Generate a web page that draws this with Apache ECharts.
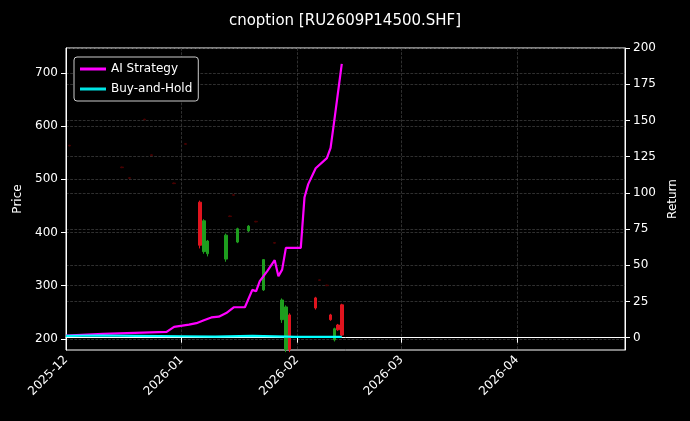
<!DOCTYPE html>
<html><head><meta charset="utf-8">
<script src="https://cdn.jsdelivr.net/npm/echarts@6/dist/echarts.min.js"></script>
<style>html,body{margin:0;background:#000}#c{width:690px;height:421px}</style>
</head><body><div id="c"></div>
<script>
// candles: [date, open, close, low, high]
const candleDates = ['2026-01-06','2026-01-07','2026-01-08','2026-01-13','2026-01-16','2026-01-19','2026-01-23','2026-01-28','2026-01-29','2026-01-30','2026-02-06','2026-02-10','2026-02-11','2026-02-12','2026-02-13'];
const candleOpen  = [376, 422, 384, 395, 407, 412, 349, 273, 260, 180, 258, 236, 219, 217, 207];
const candleClose = [457, 364, 360, 350, 382, 403, 292, 236, 180, 245, 277, 245, 198, 226, 264];
const candleLow   = [370, 360, 355, 345, 380, 401, 290, 230, 175, 175, 255, 234, 195, 215, 205];
const candleHigh  = [460, 425, 386, 398, 409, 414, 350, 276, 263, 248, 279, 247, 221, 228, 266];
// faint near-flat candles (dots)
const dotDates = ['2025-12-02','2025-12-12','2025-12-16','2025-12-18','2025-12-22','2025-12-24','2025-12-30','2026-01-02','2026-01-15','2026-01-14','2026-01-21','2026-01-26','2026-02-07','2026-02-09'];
const dotPrice = [563, 723, 522, 502, 612, 545, 492, 566, 470, 430, 420, 380, 310, 300];
// AI Strategy return
const aiDates = ['2025-12-01','2025-12-11','2025-12-28','2025-12-30','2026-01-03','2026-01-05','2026-01-07','2026-01-09','2026-01-11','2026-01-13','2026-01-15','2026-01-18','2026-01-20','2026-01-21','2026-01-22','2026-01-24','2026-01-26','2026-01-27','2026-01-28','2026-01-29','2026-02-02','2026-02-03','2026-02-04','2026-02-06','2026-02-09','2026-02-10','2026-02-11','2026-02-13'];
const aiReturn = [1.4, 2.7, 4, 7.5, 9, 10, 12, 14, 14.5, 17, 21, 21, 33, 32, 39, 46, 53.5, 42.5, 47, 62, 62, 97, 106, 117, 124, 131, 150, 189];
const bhDates = ['2025-12-01','2025-12-10','2025-12-20','2026-01-01','2026-01-10','2026-01-20','2026-02-01','2026-02-13'];
const bhReturn = [1.2, 1.5, 1.3, 1.0, 0.8, 1.2, 0.5, 0.6];

const candleData = candleDates.map((d,i)=>[d,candleOpen[i],candleClose[i],candleLow[i],candleHigh[i]]);
const dotData = dotDates.map((d,i)=>({value:[d,dotPrice[i],dotPrice[i]+1,dotPrice[i]-1,dotPrice[i]+2],itemStyle:{color:'#4a0000',color0:'#4a0000',borderColor:'#4a0000',borderColor0:'#4a0000'}}));
const gridLine = {show:true,lineStyle:{color:'#444',type:'dashed',width:0.7}};
const chart = echarts.init(document.getElementById('c'));
chart.setOption({
  backgroundColor:'#000',
  animation:false,
  title:{text:'cnoption [RU2609P14500.SHF]',left:'center',top:9,textStyle:{color:'#fff',fontSize:15,fontWeight:'normal',fontFamily:'DejaVu Sans'}},
  legend:{left:74,top:57,orient:'vertical',itemWidth:26,itemHeight:3,itemGap:8,backgroundColor:'#000',borderColor:'#ccc',borderWidth:1,borderRadius:3,padding:[6,6],
    textStyle:{color:'#fff',fontSize:12,fontFamily:'DejaVu Sans'},icon:'rect',data:['AI Strategy','Buy-and-Hold']},
  grid:{left:66,right:65,top:48,bottom:71,show:true,borderColor:'#fff',borderWidth:1},
  xAxis:{type:'time',min:'2025-12-01',max:'2026-04-30',splitNumber:5,
    axisLine:{lineStyle:{color:'#fff'}},axisTick:{lineStyle:{color:'#fff'}},
    axisLabel:{color:'#fff',rotate:45,fontSize:12,fontFamily:'DejaVu Sans',formatter:v=>{const d=new Date(v);return d.getDate()===1?d.getFullYear()+'-'+String(d.getMonth()+1).padStart(2,'0'):'';}},
    splitLine:gridLine},
  yAxis:[
    {type:'value',name:'Price',nameLocation:'middle',nameGap:38,nameTextStyle:{color:'#fff',fontSize:12,fontFamily:'DejaVu Sans'},
     min:179,max:747,position:'left',axisLine:{show:true,lineStyle:{color:'#fff'}},axisTick:{show:true,customValues:[200,300,400,500,600,700],lineStyle:{color:'#fff'}},
     axisLabel:{color:'#fff',fontSize:12,fontFamily:'DejaVu Sans',customValues:[200,300,400,500,600,700]},splitLine:gridLine},
    {type:'value',name:'Return',nameLocation:'middle',nameGap:42,nameTextStyle:{color:'#fff',fontSize:12,fontFamily:'DejaVu Sans'},
     min:-8.5,max:200,position:'right',axisLine:{show:true,lineStyle:{color:'#fff'}},axisTick:{show:true,customValues:[0,25,50,75,100,125,150,175,200],lineStyle:{color:'#fff'}},
     axisLabel:{color:'#fff',fontSize:12,fontFamily:'DejaVu Sans',customValues:[0,25,50,75,100,125,150,175,200]},splitLine:gridLine}
  ],
  series:[
    {type:'candlestick',name:'K',yAxisIndex:0,barWidth:3,data:candleData.concat(dotData),
     itemStyle:{color:'#e0141e',color0:'#1e9e1e',borderColor:'#e0141e',borderColor0:'#1e9e1e'}},
    {type:'line',name:'AI Strategy',yAxisIndex:1,showSymbol:false,data:aiDates.map((d,i)=>[d,aiReturn[i]]),lineStyle:{color:'#ff00ff',width:2.2},itemStyle:{color:'#ff00ff'}},
    {type:'line',name:'Buy-and-Hold',yAxisIndex:1,showSymbol:false,data:bhDates.map((d,i)=>[d,bhReturn[i]]),lineStyle:{color:'#00ffff',width:2.2},itemStyle:{color:'#00e5e5'}}
  ]
});
</script></body></html>
